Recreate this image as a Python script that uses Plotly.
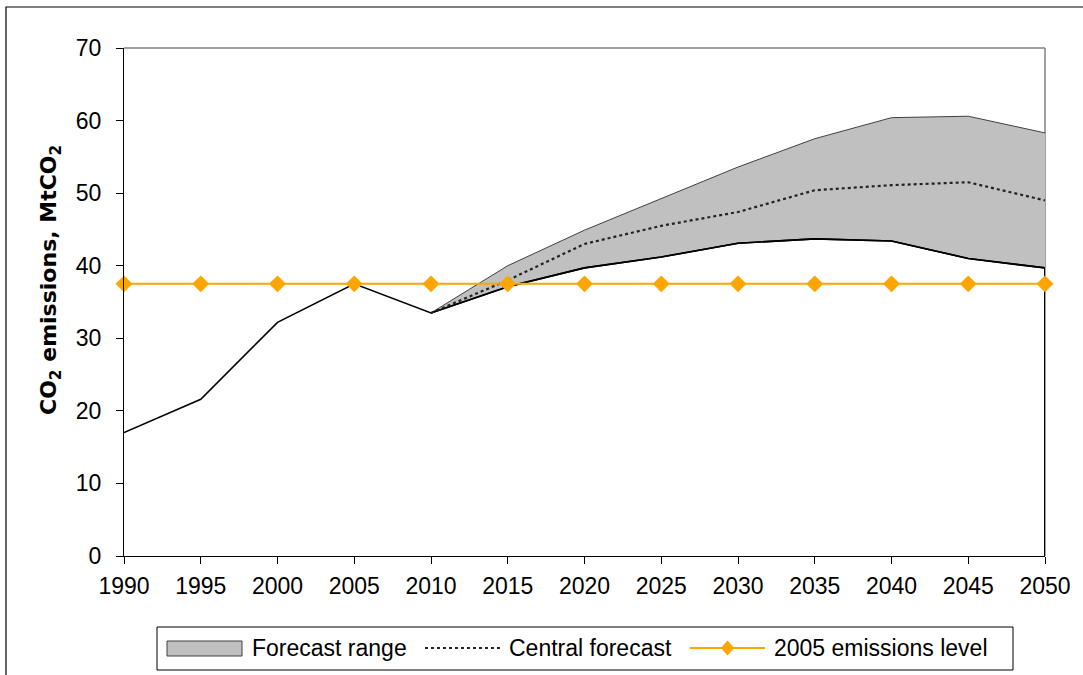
import plotly.graph_objects as go

# ---- data ----
years = [1990, 1995, 2000, 2005, 2010, 2015, 2020, 2025, 2030, 2035, 2040, 2045, 2050]
actual_lower = [17.0, 21.6, 32.2, 37.5, 33.5, 37.1, 39.7, 41.2, 43.1, 43.7, 43.4, 41.0, 39.7]
forecast_years = [2010, 2015, 2020, 2025, 2030, 2035, 2040, 2045, 2050]
forecast_upper = [33.5, 40.0, 44.9, 49.3, 53.6, 57.5, 60.4, 60.6, 58.3]
forecast_lower = [33.5, 37.1, 39.7, 41.2, 43.1, 43.7, 43.4, 41.0, 39.7]
central = [33.5, 38.0, 43.0, 45.5, 47.4, 50.4, 51.1, 51.5, 49.0]
level_2005 = [37.5] * len(years)
x_ticks = years
y_ticks = [0, 10, 20, 30, 40, 50, 60, 70]
legend_names = ["Forecast range", "Central forecast", "2005 emissions level"]
y_title = "<b>CO<sub>2</sub> emissions, MtCO<sub>2</sub></b>"

FONT = "Liberation Sans, Arial, sans-serif"
ORANGE = "#FFA500"
GRAY_FILL = "#C0C0C0"

W, H = 1083, 675
L, R, T, B = 124, 38, 48, 119
PW, PH = W - L - R, H - T - B


def px(sx):  # screen x -> paper x
    return (sx - L) / PW


def py(sy):  # screen y -> paper y
    return (H - B - sy) / PH


fig = go.Figure()

fig.add_trace(go.Scatter(x=forecast_years, y=forecast_lower, mode="lines",
                         line=dict(color="#000000", width=1.6), showlegend=False,
                         hoverinfo="skip"))
fig.add_trace(go.Scatter(x=forecast_years, y=forecast_upper, mode="lines",
                         fill="tonexty", fillcolor=GRAY_FILL,
                         line=dict(color="#404040", width=1),
                         name=legend_names[0], showlegend=False))
fig.add_trace(go.Scatter(x=years, y=actual_lower, mode="lines",
                         line=dict(color="#000000", width=1.6), showlegend=False))
fig.add_trace(go.Scatter(x=[years[-1], years[-1]], y=[0, actual_lower[-1]], mode="lines",
                         line=dict(color="#000000", width=2), showlegend=False,
                         hoverinfo="skip"))
fig.add_trace(go.Scatter(x=forecast_years, y=central, mode="lines",
                         line=dict(color="#222222", width=2.2, dash="dot"),
                         name=legend_names[1], showlegend=False))
fig.add_trace(go.Scatter(x=years, y=level_2005, mode="lines+markers",
                         line=dict(color=ORANGE, width=2),
                         marker=dict(symbol="diamond", size=13, color=ORANGE),
                         name=legend_names[2], cliponaxis=False, showlegend=False))

# ---- custom legend ----
ly = py(648)
dx, dy = 6.5 / PW, 7.5 / PH
dcx = px(727.5)
shapes = [
    dict(type="line", xref="paper", yref="paper", x0=0, x1=1, y0=1, y1=1,
         line=dict(color="#808080", width=1.5)),
    dict(type="line", xref="paper", yref="paper", x0=1, x1=1, y0=0, y1=1,
         line=dict(color="#808080", width=1.5), layer="below"),
    dict(type="rect", xref="paper", yref="paper", x0=px(6), x1=px(1095),
         y0=py(690), y1=py(7), line=dict(color="#000000", width=1.2),
         fillcolor="rgba(0,0,0,0)"),
    dict(type="rect", xref="paper", yref="paper", x0=px(157), x1=px(1013),
         y0=py(670), y1=py(627), line=dict(color="#000000", width=1),
         fillcolor="white"),
    dict(type="rect", xref="paper", yref="paper", x0=px(167), x1=px(242),
         y0=py(656), y1=py(641), line=dict(color="#404040", width=1),
         fillcolor=GRAY_FILL),
    dict(type="line", xref="paper", yref="paper", x0=px(425), x1=px(500),
         y0=ly, y1=ly, line=dict(color="#222222", width=2.2, dash="dot")),
    dict(type="line", xref="paper", yref="paper", x0=px(690), x1=px(765),
         y0=ly, y1=ly, line=dict(color=ORANGE, width=2)),
    dict(type="path", xref="paper", yref="paper",
         path=f"M {dcx-dx},{ly} L {dcx},{ly+dy} L {dcx+dx},{ly} L {dcx},{ly-dy} Z",
         fillcolor=ORANGE, line=dict(color=ORANGE, width=0)),
]
annotations = [
    dict(text=name, xref="paper", yref="paper", x=px(sx), y=ly, xanchor="left",
         yanchor="middle", showarrow=False, font=dict(family=FONT, size=23, color="#000"))
    for name, sx in zip(legend_names, [250, 507, 772])
]
annotations.append(dict(text=y_title, xref="paper", yref="paper", x=px(50), y=py(280),
                        textangle=-90, showarrow=False, xanchor="center", yanchor="middle",
                        font=dict(family="DejaVu Sans, sans-serif", size=22, color="#000")))

fig.update_layout(
    width=W, height=H,
    margin=dict(l=L, r=R, t=T, b=B),
    paper_bgcolor="white", plot_bgcolor="white",
    font=dict(family=FONT, size=23, color="#000000"),
    showlegend=False,
    xaxis=dict(range=[1990, 2050], tickvals=x_ticks, ticktext=[str(v) for v in x_ticks],
               showgrid=False, zeroline=False, showline=True, linecolor="#000000",
               linewidth=1, ticks="outside", ticklen=7, tickcolor="#000000",
               tickfont=dict(size=23), ticklabelstandoff=2),
    yaxis=dict(range=[0, 70], tickvals=y_ticks, showgrid=False, zeroline=False,
               showline=True, linecolor="#000000", linewidth=1, ticks="outside",
               ticklen=7, tickcolor="#000000", tickfont=dict(size=23),
               ticklabelstandoff=10),
    shapes=shapes,
    annotations=annotations,
)

fig.write_html("out.html", config={"displayModeBar": False},
               post_script="document.body.style.margin='0';")
